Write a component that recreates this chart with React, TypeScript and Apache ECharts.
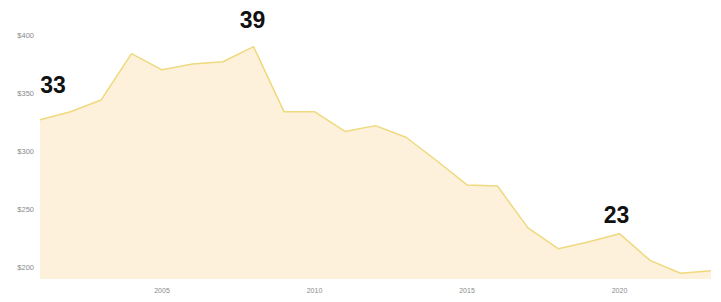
import React, { useEffect, useRef } from "react";
import * as echarts from "echarts";

const years = [2001, 2002, 2003, 2004, 2005, 2006, 2007, 2008, 2009, 2010, 2011, 2012, 2013, 2014, 2015, 2016, 2017, 2018, 2019, 2020, 2021, 2022, 2023];
const prices = [327, 334, 344, 384, 370, 375, 377, 390, 334, 334, 317, 322, 312, 292, 271, 270, 234, 216, 222, 229, 206, 195, 197];
const yTicks = [200, 250, 300, 350, 400];
const xTicks = [2005, 2010, 2015, 2020];
const callouts = [
  { year: 2001, text: "33", offset: [13, -35] },
  { year: 2008, text: "39", offset: [-1, -27] },
  { year: 2020, text: "23", offset: [-3, -19] },
];

export default function App() {
  const ref = useRef<HTMLDivElement>(null);
  useEffect(() => {
    if (!ref.current) return;
    const chart = echarts.init(ref.current, undefined, { renderer: "svg" });
    const data = years.map((y, i) => [y, prices[i]]);
    chart.setOption({
      animation: false,
      backgroundColor: "#ffffff",
      grid: { left: 40, right: 10, top: 35, bottom: 23 },
      xAxis: {
        type: "value",
        min: 2001,
        max: 2023,
        axisLine: { show: false },
        axisTick: { show: false },
        splitLine: { show: false },
        axisLabel: {
          customValues: xTicks,
          color: "#8a8a8a",
          fontSize: 7,
          fontFamily: "Liberation Sans, Arial, sans-serif",
          margin: 8,
          formatter: (v: number) => String(v),
        },
      },
      yAxis: {
        type: "value",
        min: 190,
        max: 400,
        axisLine: { show: false },
        axisTick: { show: false },
        splitLine: { show: false },
        axisLabel: {
          customValues: yTicks,
          color: "#8a8a8a",
          fontSize: 7.5,
          fontFamily: "Liberation Sans, Arial, sans-serif",
          margin: 6,
          formatter: (v: number) => "$" + v,
        },
      },
      series: [
        {
          type: "line",
          data,
          showSymbol: false,
          lineStyle: { color: "#eed97c", width: 1.5 },
          areaStyle: { color: "#fdf1dc", opacity: 1 },
          markPoint: {
            symbol: "circle",
            symbolSize: 0,
            data: callouts.map((c) => ({
              coord: [c.year, prices[years.indexOf(c.year)]],
              value: c.text,
              label: {
                show: true,
                position: "inside",
                offset: c.offset,
                formatter: c.text,
                color: "#111111",
                fontSize: 23,
                fontWeight: "bold",
                fontFamily: "Liberation Sans, Arial, sans-serif",
              },
            })),
          },
        },
      ],
    });
    return () => chart.dispose();
  }, []);
  return (
    <div
      ref={ref}
      style={{ position: "fixed", left: 0, top: 0, width: 721, height: 302 }}
    />
  );
}
